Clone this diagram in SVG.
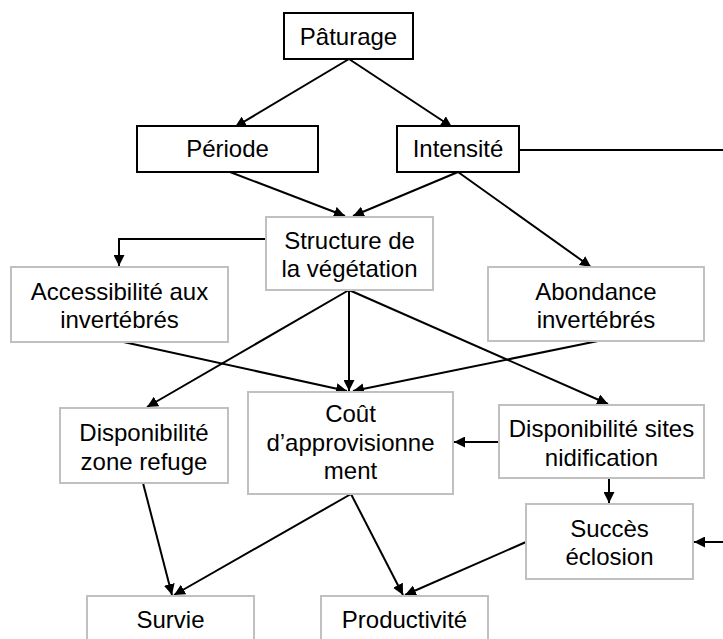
<svg xmlns="http://www.w3.org/2000/svg" width="723" height="639" viewBox="0 0 723 639">
<defs>
<marker id="arr" markerUnits="userSpaceOnUse" markerWidth="12" markerHeight="11" refX="11" refY="5.5" orient="auto">
<path d="M0,0 L11,5.5 L0,11 Z" fill="#000"/>
</marker>
<style>
.bk{fill:#fff;stroke:#000;stroke-width:2}
.gr{fill:#fff;stroke:#c0c0c0;stroke-width:2}
text{font-family:"Liberation Sans",Arial,sans-serif;font-size:24px;fill:#000;text-anchor:middle}
.c line,.c polyline{stroke:#000;stroke-width:2;fill:none}
.a{marker-end:url(#arr)}
</style>
</defs>
<rect width="723" height="639" fill="#fff"/>
<g class="c" id="connectors">
<line class="a" x1="349" y1="59" x2="235" y2="127"/>
<line class="a" x1="349" y1="59" x2="452" y2="127"/>
<line class="a" x1="230" y1="172" x2="345" y2="216"/>
<line class="a" x1="458" y1="172" x2="353" y2="216"/>
<line class="a" x1="458" y1="172" x2="591" y2="267"/>
<line x1="519" y1="150" x2="723" y2="150"/>
<polyline class="a" points="266,239 119,239 119,266"/>
<line class="a" x1="349" y1="290" x2="147" y2="407"/>
<line class="a" x1="349" y1="290" x2="349" y2="391"/>
<line class="a" x1="349" y1="290" x2="608" y2="404"/>
<line class="a" x1="119" y1="341" x2="347" y2="391"/>
<line class="a" x1="598" y1="341" x2="353" y2="391"/>
<line class="a" x1="499" y1="442" x2="454" y2="442"/>
<line class="a" x1="609" y1="478" x2="609" y2="503"/>
<line class="a" x1="723" y1="542" x2="694" y2="542"/>
<line class="a" x1="143" y1="483" x2="172" y2="595"/>
<line class="a" x1="351" y1="494" x2="174" y2="595"/>
<line class="a" x1="351" y1="494" x2="403" y2="595"/>
<line class="a" x1="526" y1="542" x2="405" y2="595"/>
</g>
<g id="paturage"><rect class="bk" x="284" y="13" width="129" height="46"/><text x="348.5" y="45">Pâturage</text></g>
<g id="periode"><rect class="bk" x="137" y="126" width="181" height="46"/><text x="227.5" y="157">Période</text></g>
<g id="intensite"><rect class="bk" x="397" y="126" width="122" height="46"/><text x="458" y="157">Intensité</text></g>
<g id="structure"><rect class="gr" x="266" y="217" width="167" height="73"/><text x="349.5" y="249">Structure de</text><text x="349.5" y="277">la végétation</text></g>
<g id="accessibilite"><rect class="gr" x="11" y="267" width="217" height="75"/><text x="119.5" y="300">Accessibilité aux</text><text x="119.5" y="328">invertébrés</text></g>
<g id="abondance"><rect class="gr" x="488" y="267" width="216" height="74"/><text x="596" y="300">Abondance</text><text x="596" y="328">invertébrés</text></g>
<g id="refuge"><rect class="gr" x="60" y="408" width="168" height="75"/><text x="144" y="441">Disponibilité</text><text x="144" y="470">zone refuge</text></g>
<g id="cout"><rect class="gr" x="248" y="392" width="205" height="102"/><text x="350.5" y="422">Coût</text><text x="350.5" y="451">d’approvisionne</text><text x="350.5" y="479">ment</text></g>
<g id="sites"><rect class="gr" x="499" y="405" width="205" height="73"/><text x="601.5" y="437">Disponibilité sites</text><text x="601.5" y="466">nidification</text></g>
<g id="succes"><rect class="gr" x="526" y="504" width="167" height="75"/><text x="609.5" y="537">Succès</text><text x="609.5" y="565">éclosion</text></g>
<g id="survie"><rect class="gr" x="87" y="596" width="167" height="60"/><text x="170.5" y="628">Survie</text></g>
<g id="productivite"><rect class="gr" x="321" y="596" width="167" height="60"/><text x="404.5" y="628">Productivité</text></g>
</svg>
